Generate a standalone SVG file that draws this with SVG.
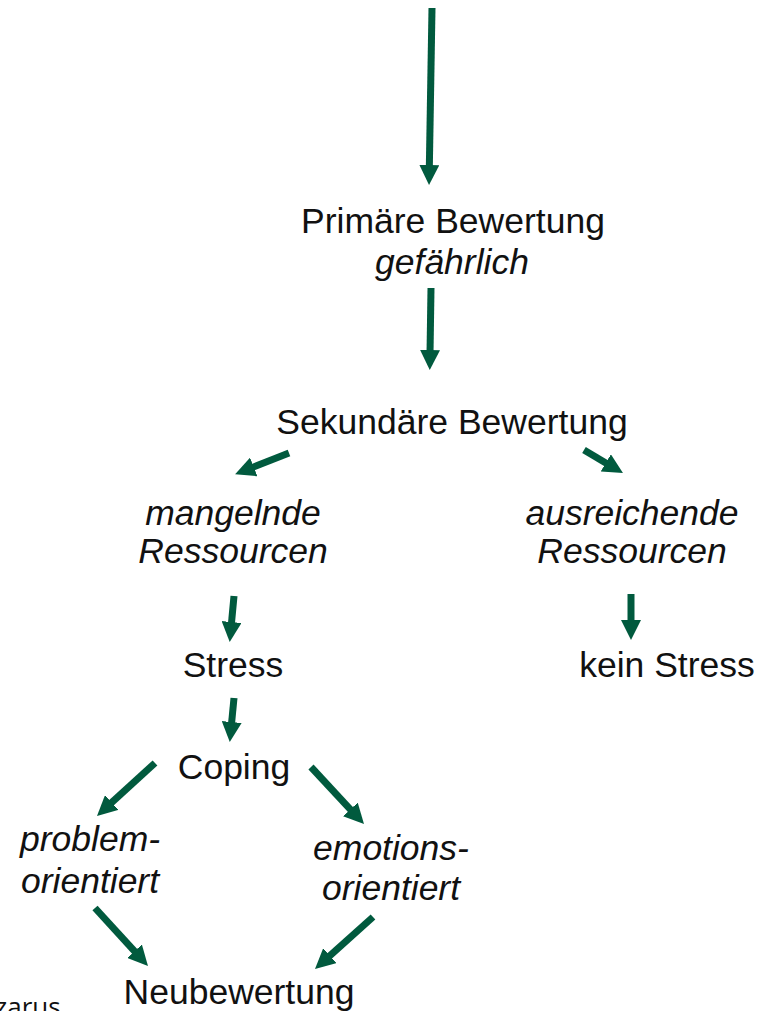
<svg xmlns="http://www.w3.org/2000/svg" width="758" height="1011" viewBox="0 0 758 1011">
<style>
text{font-family:"Liberation Sans",Arial,sans-serif;font-size:35.5px;fill:#111;text-anchor:middle}
.i{font-style:italic}
.c line{stroke:#015a3e;stroke-width:7;marker-end:url(#ah)}
.note{font-family:"Open Sans","Liberation Sans",sans-serif;font-size:26px;text-anchor:start}
</style>
<defs>
<marker id="ah" viewBox="0 0 20 20" refX="4" refY="10" markerWidth="20" markerHeight="20" markerUnits="userSpaceOnUse" orient="auto">
<path d="M0,0 L20,10 L0,20 z" fill="#015a3e"/>
</marker>
</defs>
<g class="c" id="connectors">
<line x1="432" y1="8" x2="429.3" y2="169"/>
<line x1="431" y1="288" x2="430" y2="354"/>
<line x1="289" y1="453" x2="250" y2="468.4"/>
<line x1="584" y1="450" x2="609.2" y2="464.9"/>
<line x1="234" y1="596" x2="231.2" y2="626"/>
<line x1="631" y1="594" x2="631" y2="624"/>
<line x1="234" y1="698" x2="231.3" y2="726"/>
<line x1="155" y1="763" x2="108.8" y2="805.2"/>
<line x1="311" y1="767" x2="353.1" y2="812.3"/>
<line x1="95" y1="908" x2="137.2" y2="954.2"/>
<line x1="373" y1="917" x2="326.9" y2="958.3"/>
</g>
<g id="primaer"><text x="453" y="233">Primäre Bewertung</text><text class="i" x="452" y="274">gefährlich</text></g>
<g id="sekundaer"><text x="452" y="434">Sekundäre Bewertung</text></g>
<g id="mangelnde"><text class="i" x="233" y="525">mangelnde</text><text class="i" x="233" y="563">Ressourcen</text></g>
<g id="ausreichende"><text class="i" x="632" y="525">ausreichende</text><text class="i" x="632" y="563">Ressourcen</text></g>
<g id="stress"><text x="233" y="677">Stress</text></g>
<g id="keinstress"><text x="667" y="677">kein Stress</text></g>
<g id="coping"><text x="234" y="779">Coping</text></g>
<g id="problem"><text class="i" x="90" y="851">problem-</text><text class="i" x="90" y="893">orientiert</text></g>
<g id="emotion"><text class="i" x="391" y="860">emotions-</text><text class="i" x="391" y="900">orientiert</text></g>
<g id="neubewertung"><text x="239" y="1004">Neubewertung</text></g>
<text class="note" x="-5" y="1016">zarus</text>
</svg>
